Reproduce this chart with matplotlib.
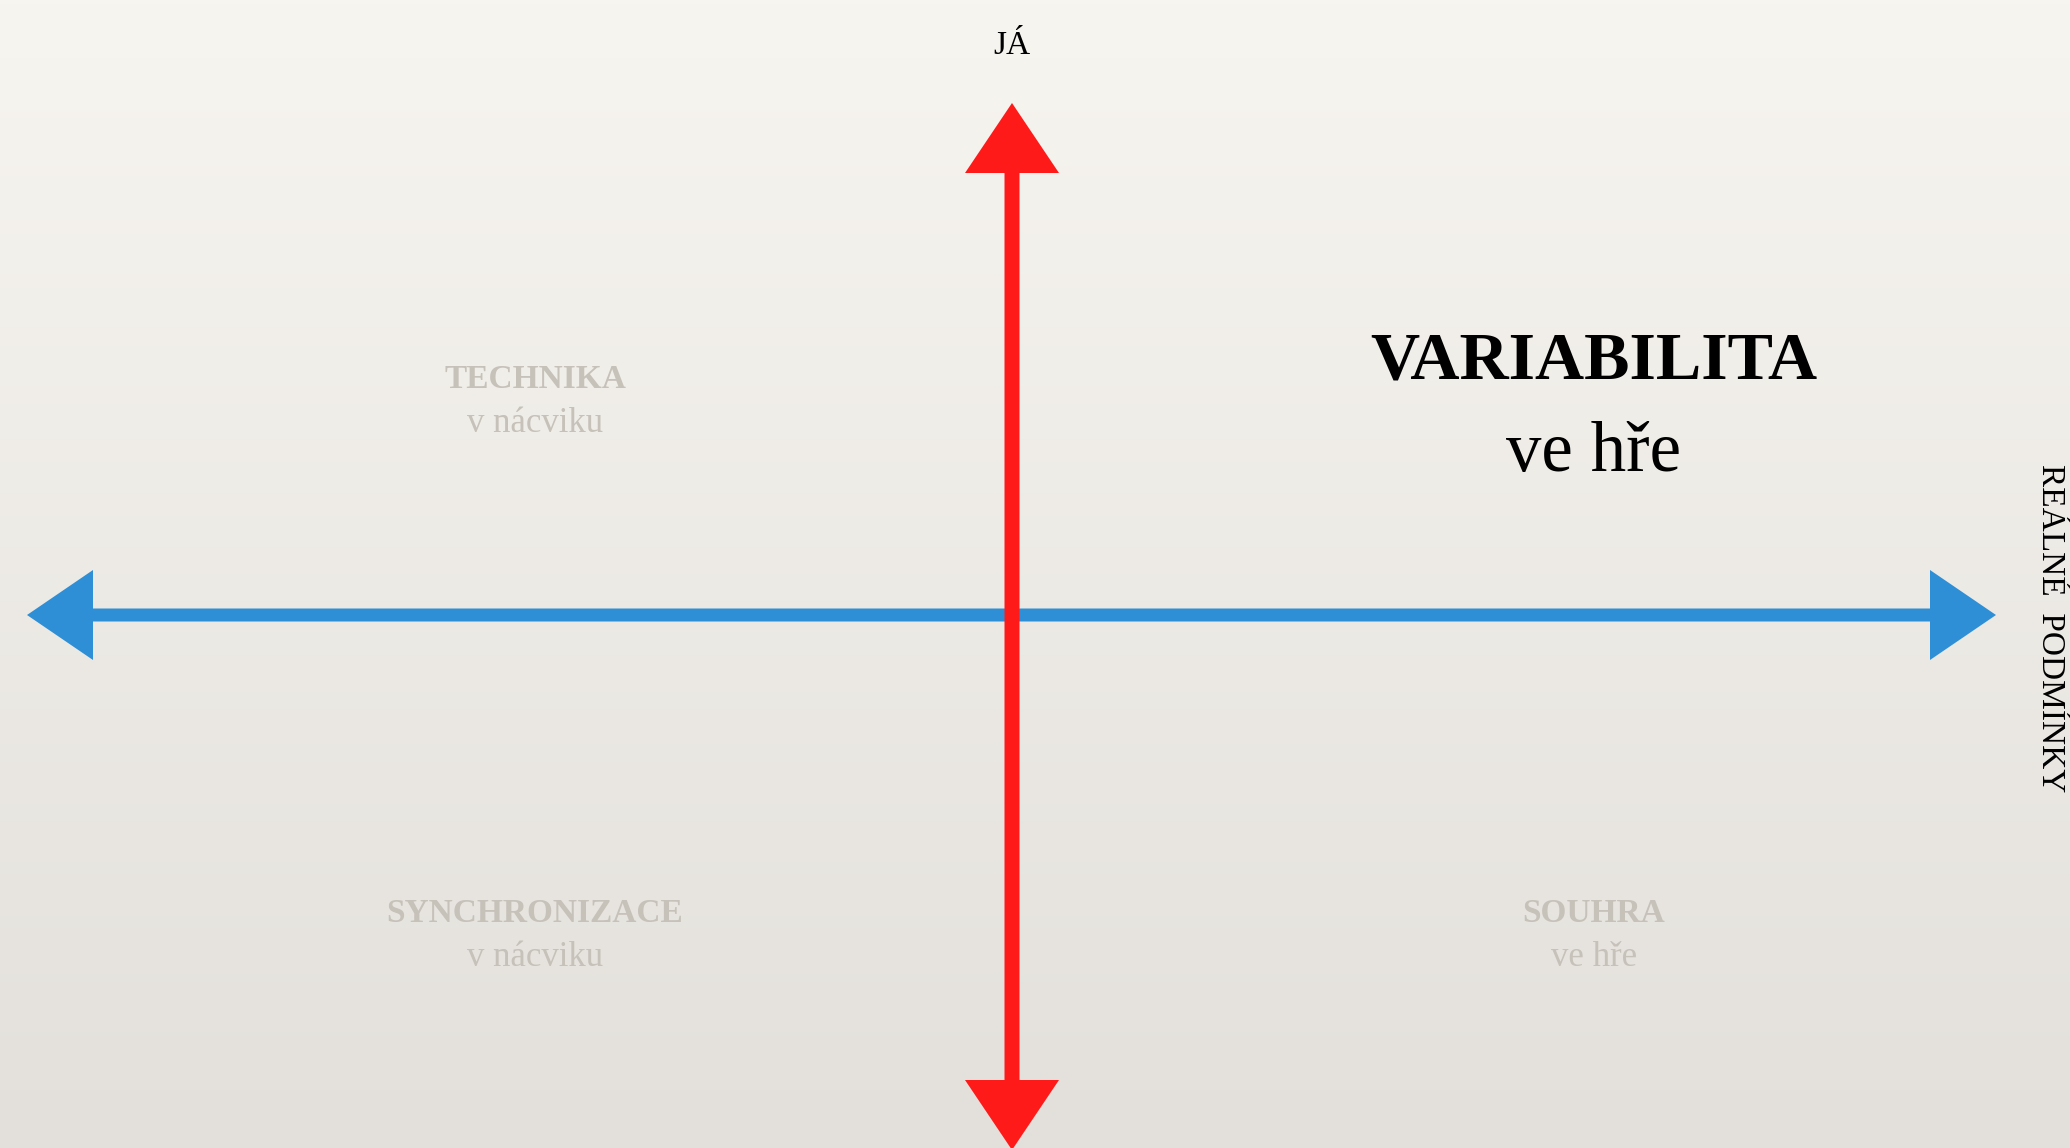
import numpy as np
import matplotlib.pyplot as plt

# quadrant labels (headline, subline)
quad_titles = ['TECHNIKA', 'VARIABILITA', 'SYNCHRONIZACE', 'SOUHRA']
quad_subs = ['v nácviku', 've hře', 'v nácviku', 've hře']
highlight = 'VARIABILITA'
top_label = 'JÁ'
right_label = 'REÁLNÉ  PODMÍNKY'

# canvas in pixel-like units
W, H = 2070, 1148
cx, cy = 1012, 615
quad_x = [535, 1594, 535, 1594]
quad_y = [380, 362, 913, 913]

fig = plt.figure(figsize=(20.7, 11.48), dpi=100)
ax = fig.add_axes([0, 0, 1, 1])
ax.set_xlim(0, W)
ax.set_ylim(H, 0)
ax.axis('off')

# paper-like background
top = np.array([247, 245, 240]) / 255
bot = np.array([227, 224, 219]) / 255
t = np.linspace(0, 1, 256)[:, None, None]
grad = top * (1 - t) + bot * t
grad = np.repeat(grad, 4, axis=1)
ax.imshow(grad, extent=[0, W, H, 0], aspect='auto', zorder=0)

blue = '#2E8FD6'
red = '#FF1A1A'
# horizontal (blue) double arrow
for tip in [27, 1996]:
    ax.arrow(cx, cy, tip - cx, 0, width=13, head_width=90, head_length=66,
             length_includes_head=True, color=blue, lw=0, zorder=2)
# vertical (red) double arrow
for tip in [103, 1150]:
    ax.arrow(cx, cy, 0, tip - cy, width=15, head_width=94, head_length=70,
             length_includes_head=True, color=red, lw=0, zorder=3)

serif = ['Liberation Serif', 'DejaVu Serif']
grey = '#C6C1B9'
for name, sub, x, y in zip(quad_titles, quad_subs, quad_x, quad_y):
    if name == highlight:
        ax.text(x, y, name, ha='center', va='center', fontsize=49,
                fontweight='bold', family=serif, color='black', zorder=4)
        ax.text(x, y + 92, sub, ha='center', va='center', fontsize=51,
                family=serif, color='black', zorder=4)
    else:
        ax.text(x, y, name, ha='center', va='center', fontsize=24,
                fontweight='bold', family=serif, color=grey, zorder=4)
        ax.text(x, y + 44, sub, ha='center', va='center', fontsize=25,
                family=serif, color=grey, zorder=4)

ax.text(cx, 46, top_label, ha='center', va='center', fontsize=24,
        family=serif, color='black', zorder=4)
ax.text(2050, 628, right_label, ha='center', va='center', fontsize=24,
        family=serif, color='black', rotation=-90, zorder=4)

fig.savefig('out.png', dpi=100)
